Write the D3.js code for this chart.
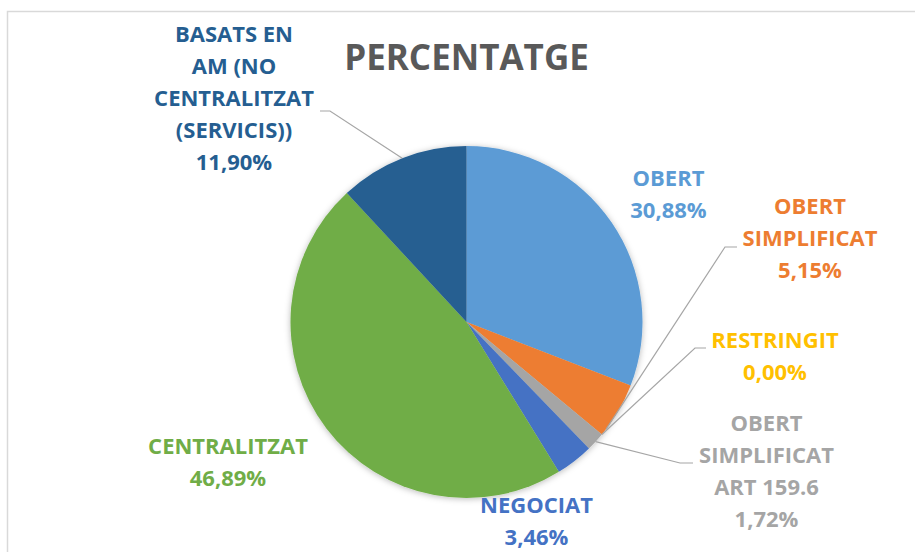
<!DOCTYPE html>
<html>
<head>
<meta charset="utf-8">
<script src="https://cdn.jsdelivr.net/npm/d3@7"></script>
<style>
  html, body { margin: 0; padding: 0; background: #ffffff; }
  svg { display: block; }
  text { font-family: "Open Sans", "DejaVu Sans", sans-serif; font-weight: 700; }
</style>
</head>
<body>
<svg id="chart" width="915" height="552"></svg>
<script>
// ---- data ----
const title = "PERCENTATGE";
const categories = [
  "OBERT",
  "OBERT SIMPLIFICAT",
  "RESTRINGIT",
  "OBERT SIMPLIFICAT ART 159.6",
  "NEGOCIAT",
  "CENTRALITZAT",
  "BASATS EN AM (NO CENTRALITZAT (SERVICIS))"
];
const values = [30.88, 5.15, 0.00, 1.72, 3.46, 46.89, 11.90];
const labelLines = [
  ["OBERT"],
  ["OBERT", "SIMPLIFICAT"],
  ["RESTRINGIT"],
  ["OBERT", "SIMPLIFICAT", "ART 159.6"],
  ["NEGOCIAT"],
  ["CENTRALITZAT"],
  ["BASATS EN", "AM (NO", "CENTRALITZAT", "(SERVICIS))"]
];
const colors = ["#5B9BD5", "#ED7D31", "#FFC000", "#A5A5A5", "#4472C4", "#70AD47", "#255E91"];

// ---- layout ----
const W = 915, H = 552;
const cx = 466.5, cy = 322, R = 176;
const lineH = 32;
// label anchor: centre x, first baseline y
const labelPos = [
  [668.5, 186],
  [810, 214],
  [775, 348],
  [766.5, 431],
  [536.5, 513],
  [228, 454],
  [234, 42]
];
// leader lines: slice index, fraction of slice angle where it meets pie, elbow, end
const leaders = [
  { i: 6, f: 0.5, elbow: [330, 111], end: [320, 111] },
  { i: 1, f: 0.88, elbow: [725, 247], end: [737, 247] },
  { i: 2, f: 0.5, elbow: [695, 348], end: [706, 348] },
  { i: 3, f: 0.5, elbow: [680, 463], end: [693, 463] }
];

const svg = d3.select("#chart");

const defs = svg.append("defs");
const filt = defs.append("filter").attr("id", "shadow")
  .attr("x", "-20%").attr("y", "-20%").attr("width", "140%").attr("height", "140%");
filt.append("feDropShadow").attr("dx", 0).attr("dy", 1).attr("stdDeviation", 3)
  .attr("flood-color", "#000").attr("flood-opacity", 0.28);

// chart border (partial, as in the cropped reference)
svg.append("path")
  .attr("d", `M7.5,${H} L7.5,11.5 L${W},11.5`)
  .attr("fill", "none").attr("stroke", "#D9D9D9").attr("stroke-width", 1.5);

// title
svg.append("text")
  .attr("x", cx).attr("y", 69.5)
  .attr("text-anchor", "middle")
  .attr("font-size", 35)
  .attr("fill", "#595959")
  .text(title);

// pie
const pie = d3.pie().sort(null).value(d => d)(values);
const arc = d3.arc().innerRadius(0).outerRadius(R);
const g = svg.append("g").attr("transform", `translate(${cx},${cy})`);
g.append("g").attr("filter", "url(#shadow)")
  .selectAll("path").data(pie).join("path")
  .attr("d", arc)
  .attr("fill", (d, i) => colors[i]);

// leader lines
const pointOnPie = (d, f) => {
  const a = d.startAngle + (d.endAngle - d.startAngle) * f;
  return [cx + R * Math.sin(a), cy - R * Math.cos(a)];
};
svg.append("g").selectAll("polyline").data(leaders).join("polyline")
  .attr("points", l => [pointOnPie(pie[l.i], l.f), l.elbow, l.end].map(p => p.join(",")).join(" "))
  .attr("fill", "none").attr("stroke", "#A6A6A6").attr("stroke-width", 1.2);

// labels
const fmt = v => d3.format(".2f")(v).replace(".", ",") + "%";
const lg = svg.append("g");
categories.forEach((c, i) => {
  const lines = labelLines[i].concat([fmt(values[i])]);
  const t = lg.append("text")
    .attr("text-anchor", "middle")
    .attr("font-size", 22)
    .attr("fill", colors[i]);
  lines.forEach((s, k) => {
    t.append("tspan").attr("x", labelPos[i][0]).attr("y", labelPos[i][1] + k * lineH).text(s);
  });
});
</script>
</body>
</html>
